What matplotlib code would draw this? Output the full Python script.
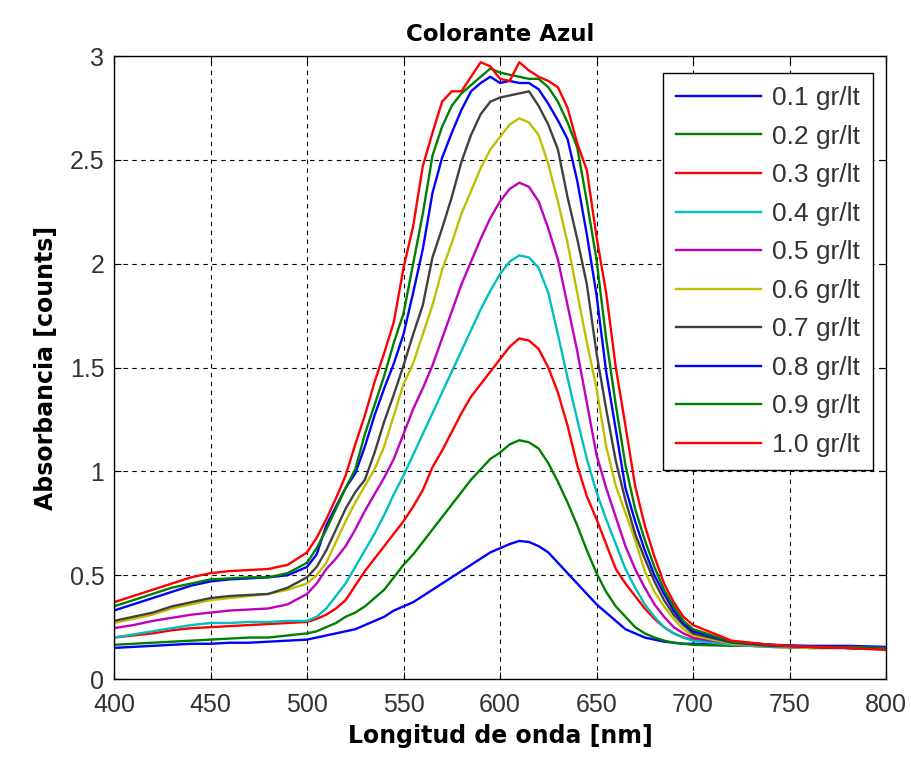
import matplotlib
matplotlib.use("Agg")
import matplotlib.pyplot as plt

wavelength = [400, 410, 420, 430, 440, 450, 460, 470, 480, 490,
              500, 505, 510, 515, 520, 525, 530, 535, 540, 545,
              550, 555, 560, 565, 570, 575, 580, 585, 590, 595,
              600, 605, 610, 615, 620, 625, 630, 635, 640, 645,
              650, 655, 660, 665, 670, 675, 680, 685, 690, 695,
              700, 720, 740, 760, 780, 800]

c01 = [0.15, 0.155, 0.16, 0.165, 0.17, 0.17, 0.175, 0.175, 0.18, 0.185,
       0.19, 0.20, 0.21, 0.22, 0.23, 0.24, 0.26, 0.28, 0.30, 0.33,
       0.35, 0.37, 0.40, 0.43, 0.46, 0.49, 0.52, 0.55, 0.58, 0.61,
       0.63, 0.65, 0.665, 0.66, 0.64, 0.61, 0.56, 0.51, 0.46, 0.41,
       0.36, 0.32, 0.28, 0.24, 0.22, 0.20, 0.19, 0.18, 0.175, 0.17,
       0.17, 0.165, 0.165, 0.16, 0.16, 0.155]

c02 = [0.165, 0.17, 0.175, 0.18, 0.185, 0.19, 0.195, 0.20, 0.20, 0.21,
       0.22, 0.23, 0.25, 0.27, 0.30, 0.32, 0.35, 0.39, 0.43, 0.49,
       0.55, 0.60, 0.66, 0.72, 0.78, 0.84, 0.90, 0.96, 1.01, 1.06,
       1.09, 1.13, 1.15, 1.14, 1.11, 1.04, 0.95, 0.85, 0.74, 0.62,
       0.51, 0.42, 0.35, 0.30, 0.25, 0.22, 0.20, 0.185, 0.175, 0.17,
       0.165, 0.16, 0.16, 0.155, 0.155, 0.15]

c03 = [0.20, 0.21, 0.22, 0.235, 0.245, 0.25, 0.255, 0.26, 0.265, 0.27,
       0.275, 0.29, 0.31, 0.34, 0.38, 0.45, 0.52, 0.58, 0.64, 0.70,
       0.76, 0.83, 0.91, 1.02, 1.10, 1.19, 1.28, 1.36, 1.42, 1.48,
       1.54, 1.60, 1.64, 1.63, 1.59, 1.50, 1.38, 1.22, 1.03, 0.88,
       0.77, 0.65, 0.53, 0.46, 0.40, 0.34, 0.29, 0.25, 0.22, 0.20,
       0.19, 0.165, 0.155, 0.15, 0.15, 0.145]

c04 = [0.20, 0.215, 0.23, 0.245, 0.26, 0.27, 0.27, 0.275, 0.275, 0.28,
       0.28, 0.30, 0.34, 0.40, 0.46, 0.54, 0.62, 0.70, 0.79, 0.89,
       0.98, 1.08, 1.18, 1.28, 1.38, 1.48, 1.58, 1.68, 1.78, 1.87,
       1.95, 2.01, 2.04, 2.03, 1.98, 1.86, 1.66, 1.45, 1.25, 1.06,
       0.90, 0.77, 0.65, 0.53, 0.44, 0.36, 0.30, 0.25, 0.22, 0.20,
       0.185, 0.165, 0.155, 0.15, 0.15, 0.145]

c05 = [0.245, 0.26, 0.28, 0.295, 0.31, 0.32, 0.33, 0.335, 0.34, 0.36,
       0.41, 0.46, 0.53, 0.58, 0.64, 0.72, 0.81, 0.89, 0.97, 1.06,
       1.18, 1.30, 1.40, 1.51, 1.64, 1.77, 1.90, 2.01, 2.12, 2.22,
       2.30, 2.36, 2.39, 2.37, 2.30, 2.17, 2.02, 1.80, 1.58, 1.33,
       1.08, 0.92, 0.78, 0.64, 0.53, 0.44, 0.36, 0.30, 0.25, 0.22,
       0.20, 0.17, 0.16, 0.15, 0.15, 0.145]

c06 = [0.27, 0.29, 0.31, 0.34, 0.36, 0.38, 0.39, 0.40, 0.41, 0.43,
       0.46, 0.50, 0.56, 0.66, 0.76, 0.85, 0.93, 1.01, 1.12, 1.27,
       1.42, 1.52, 1.66, 1.80, 1.97, 2.10, 2.24, 2.35, 2.46, 2.55,
       2.61, 2.67, 2.70, 2.68, 2.62, 2.48, 2.30, 2.10, 1.86, 1.62,
       1.40, 1.12, 0.93, 0.80, 0.67, 0.52, 0.42, 0.35, 0.29, 0.24,
       0.21, 0.17, 0.16, 0.15, 0.15, 0.145]

c07 = [0.28, 0.30, 0.32, 0.35, 0.37, 0.39, 0.40, 0.405, 0.41, 0.44,
       0.49, 0.54, 0.62, 0.72, 0.82, 0.90, 0.96, 1.09, 1.24, 1.37,
       1.51, 1.66, 1.80, 2.03, 2.17, 2.32, 2.49, 2.62, 2.72, 2.78,
       2.80, 2.81, 2.82, 2.83, 2.76, 2.67, 2.55, 2.32, 2.12, 1.90,
       1.57, 1.30, 1.05, 0.86, 0.70, 0.58, 0.47, 0.38, 0.31, 0.26,
       0.22, 0.175, 0.16, 0.155, 0.15, 0.145]

c08 = [0.33, 0.36, 0.39, 0.42, 0.45, 0.47, 0.48, 0.485, 0.49, 0.50,
       0.54, 0.60, 0.74, 0.83, 0.92, 0.99, 1.12, 1.27, 1.40, 1.52,
       1.66, 1.86, 2.07, 2.34, 2.51, 2.63, 2.74, 2.83, 2.87, 2.90,
       2.87, 2.88, 2.87, 2.87, 2.84, 2.77, 2.69, 2.60, 2.40, 2.14,
       1.85, 1.48, 1.20, 0.92, 0.76, 0.62, 0.50, 0.41, 0.33, 0.27,
       0.23, 0.18, 0.165, 0.155, 0.15, 0.145]

c09 = [0.35, 0.38, 0.41, 0.44, 0.46, 0.48, 0.485, 0.49, 0.49, 0.51,
       0.56, 0.63, 0.72, 0.82, 0.92, 1.01, 1.18, 1.32, 1.46, 1.62,
       1.76, 2.00, 2.24, 2.52, 2.66, 2.76, 2.82, 2.86, 2.90, 2.94,
       2.92, 2.91, 2.90, 2.89, 2.89, 2.85, 2.78, 2.68, 2.56, 2.30,
       2.02, 1.64, 1.32, 1.03, 0.82, 0.67, 0.54, 0.43, 0.35, 0.28,
       0.24, 0.18, 0.165, 0.155, 0.15, 0.145]

c10 = [0.37, 0.40, 0.43, 0.46, 0.49, 0.51, 0.52, 0.525, 0.53, 0.55,
       0.61, 0.68, 0.77, 0.87, 0.98, 1.13, 1.27, 1.43, 1.57, 1.72,
       1.98, 2.18, 2.47, 2.63, 2.78, 2.83, 2.83, 2.90, 2.97, 2.95,
       2.89, 2.88, 2.97, 2.93, 2.90, 2.88, 2.85, 2.75, 2.58, 2.45,
       2.13, 1.86, 1.50, 1.22, 0.93, 0.74, 0.59, 0.46, 0.37, 0.30,
       0.26, 0.185, 0.165, 0.155, 0.15, 0.14]

series = [c01, c02, c03, c04, c05, c06, c07, c08, c09, c10]
labels = ["0.1 gr/lt", "0.2 gr/lt", "0.3 gr/lt", "0.4 gr/lt", "0.5 gr/lt",
          "0.6 gr/lt", "0.7 gr/lt", "0.8 gr/lt", "0.9 gr/lt", "1.0 gr/lt"]
colors = [(0, 0, 1), (0, 0.5, 0), (1, 0, 0), (0, 0.75, 0.75), (0.75, 0, 0.75),
          (0.75, 0.75, 0), (0.25, 0.25, 0.25), (0, 0, 1), (0, 0.5, 0), (1, 0, 0)]

xticks = [400, 450, 500, 550, 600, 650, 700, 750, 800]
yticks = [0, 0.5, 1, 1.5, 2, 2.5, 3]
yticklabels = ["0", "0.5", "1", "1.5", "2", "2.5", "3"]

fig = plt.figure(figsize=(9.12, 7.63), dpi=100)
ax = fig.add_axes([0.125, 0.110, 0.8465, 0.8166])

for y, lab, col in zip(series, labels, colors):
    ax.plot(wavelength, y, color=col, lw=1.7, label=lab)

ax.set_xlim(400, 800)
ax.set_ylim(0, 3)
ax.set_xticks(xticks)
ax.set_xticklabels([str(t) for t in xticks], fontfamily="Liberation Sans",
                   fontsize=18, color="#333333")
ax.set_yticks(yticks)
ax.set_yticklabels(yticklabels, fontfamily="Liberation Sans", fontsize=18,
                   color="#333333")
ax.tick_params(direction="in", length=5, top=True, right=True, width=0.8)
ax.tick_params(axis="x", pad=10)
ax.tick_params(axis="y", pad=7)
ax.grid(True, color="black", linestyle=(0, (4, 4)), linewidth=0.8)
for s in ax.spines.values():
    s.set_linewidth(1.0)

ax.set_title("Colorante Azul", fontsize=16.5, fontweight="bold", pad=11)
ax.set_xlabel("Longitud de onda [nm]", fontsize=17, fontweight="bold", labelpad=5)
ax.set_ylabel("Absorbancia [counts]", fontsize=17, fontweight="bold", labelpad=8)

leg = ax.legend(loc="upper right", bbox_to_anchor=(0.983, 0.9727),
                prop={"family": "Liberation Sans", "size": 19},
                handlelength=3.2, labelspacing=0.55, borderaxespad=0.0,
                fancybox=False, framealpha=1, edgecolor="black",
                borderpad=0.5, handletextpad=0.42)
leg.get_frame().set_linewidth(1.0)
for t in leg.get_texts():
    t.set_color("#333333")

fig.savefig("out.png", dpi=100)
